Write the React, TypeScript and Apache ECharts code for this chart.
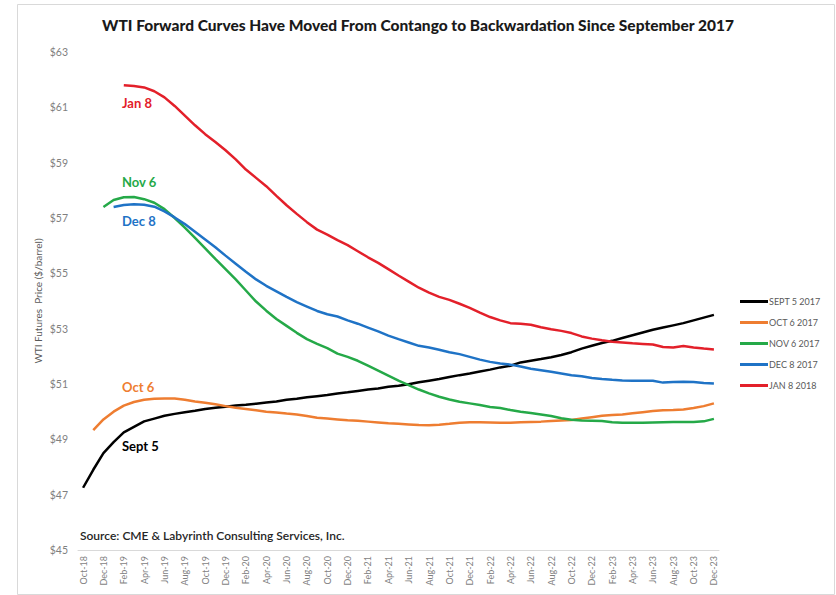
import React, { useEffect, useRef } from "react";
import * as echarts from "echarts";

const months: string[] = [
  "Oct-18","Nov-18","Dec-18","Jan-19","Feb-19","Mar-19","Apr-19","May-19","Jun-19","Jul-19","Aug-19","Sep-19",
  "Oct-19","Nov-19","Dec-19","Jan-20","Feb-20","Mar-20","Apr-20","May-20","Jun-20","Jul-20","Aug-20","Sep-20",
  "Oct-20","Nov-20","Dec-20","Jan-21","Feb-21","Mar-21","Apr-21","May-21","Jun-21","Jul-21","Aug-21","Sep-21",
  "Oct-21","Nov-21","Dec-21","Jan-22","Feb-22","Mar-22","Apr-22","May-22","Jun-22","Jul-22","Aug-22","Sep-22",
  "Oct-22","Nov-22","Dec-22","Jan-23","Feb-23","Mar-23","Apr-23","May-23","Jun-23","Jul-23","Aug-23","Sep-23",
  "Oct-23","Nov-23","Dec-23"
];

const sept5: (number | null)[] = [
  47.25,47.9,48.5,48.9,49.25,49.45,49.65,49.75,49.85,49.92,49.98,50.03,
  50.1,50.14,50.18,50.22,50.25,50.29,50.33,50.37,50.43,50.47,50.52,50.56,
  50.6,50.66,50.7,50.75,50.8,50.84,50.9,50.94,50.99,51.06,51.12,51.18,
  51.25,51.32,51.38,51.45,51.52,51.6,51.66,51.78,51.84,51.9,51.97,52.05,
  52.15,52.28,52.38,52.48,52.56,52.66,52.76,52.86,52.96,53.04,53.12,53.2,
  53.3,53.4,53.5
];

const oct6: (number | null)[] = [
  null,49.33,49.72,50.0,50.22,50.35,50.43,50.47,50.48,50.48,50.43,50.37,
  50.32,50.27,50.2,50.14,50.1,50.05,50.0,49.97,49.93,49.9,49.84,49.78,
  49.75,49.72,49.69,49.67,49.64,49.61,49.58,49.56,49.54,49.52,49.51,49.53,
  49.56,49.6,49.62,49.62,49.61,49.6,49.6,49.62,49.63,49.64,49.66,49.68,
  49.7,49.75,49.8,49.85,49.88,49.9,49.94,49.98,50.02,50.05,50.06,50.08,
  50.13,50.2,50.3
];

const nov6: (number | null)[] = [
  null,null,57.4,57.65,57.75,57.76,57.68,57.55,57.32,57.0,56.65,56.28,
  55.9,55.52,55.15,54.78,54.38,53.98,53.65,53.35,53.1,52.85,52.62,52.45,
  52.3,52.1,51.98,51.84,51.66,51.48,51.3,51.12,50.96,50.8,50.66,50.54,
  50.44,50.36,50.3,50.24,50.17,50.13,50.06,50.0,49.95,49.9,49.84,49.76,
  49.71,49.68,49.67,49.66,49.62,49.6,49.6,49.6,49.61,49.62,49.63,49.63,
  49.63,49.65,49.74
];

const dec8: (number | null)[] = [
  null,null,null,57.4,57.47,57.5,57.48,57.41,57.24,57.02,56.78,56.5,
  56.22,55.94,55.64,55.35,55.06,54.78,54.55,54.35,54.15,53.96,53.8,53.64,
  53.52,53.44,53.3,53.18,53.04,52.9,52.75,52.62,52.5,52.38,52.32,52.24,
  52.15,52.08,51.98,51.88,51.8,51.74,51.7,51.63,51.55,51.5,51.44,51.38,
  51.32,51.28,51.22,51.18,51.15,51.13,51.12,51.12,51.12,51.05,51.07,51.08,
  51.07,51.04,51.02
];

const jan8: (number | null)[] = [
  null,null,null,null,61.8,61.77,61.72,61.58,61.36,61.05,60.7,60.35,
  60.03,59.75,59.45,59.12,58.75,58.45,58.15,57.8,57.46,57.15,56.85,56.58,
  56.4,56.2,56.02,55.8,55.58,55.38,55.15,54.92,54.7,54.48,54.3,54.15,
  54.04,53.9,53.75,53.58,53.42,53.3,53.2,53.18,53.14,53.05,52.98,52.92,
  52.84,52.72,52.64,52.58,52.53,52.5,52.47,52.45,52.43,52.34,52.32,52.37,
  52.32,52.28,52.25
];

const seriesNames: string[] = ["SEPT 5 2017", "OCT 6 2017", "NOV 6 2017", "DEC 8 2017", "JAN 8 2018"];
const seriesColors: string[] = ["#000000", "#EE7D31", "#25A948", "#1F73C6", "#E3202A"];
const seriesData = [sept5, oct6, nov6, dec8, jan8];

const annotations: string[] = ["Sept 5", "Oct 6", "Nov 6", "Dec 8", "Jan 8"];

const titleText = "WTI Forward Curves Have Moved From Contango to Backwardation Since September 2017";
const sourceText = "Source: CME & Labyrinth Consulting Services, Inc.";
const yAxisName = "WTI Futures  Price ($/barrel)";

const FONT = "Lato, 'Noto Sans', sans-serif";

export default function App() {
  const ref = useRef<HTMLDivElement>(null);

  useEffect(() => {
    if (!ref.current) return;
    const chart = echarts.init(ref.current, undefined, { renderer: "svg" });

    const annPos = [
      { x: 122, y: 446 },
      { x: 122, y: 387 },
      { x: 122, y: 182 },
      { x: 122, y: 221 },
      { x: 122, y: 103 },
    ];

    chart.setOption({
      animation: false,
      backgroundColor: "#ffffff",
      textStyle: { fontFamily: FONT },
      title: {
        text: titleText,
        left: "center",
        top: 12,
        textStyle: { fontFamily: FONT, fontSize: 15.5, fontWeight: 900, color: "#1a1a1a" },
      },
      grid: { left: 78, width: 641, top: 52, height: 498, containLabel: false },
      legend: {
        orient: "vertical",
        left: 735,
        top: 292,
        itemWidth: 28,
        itemHeight: 3,
        itemGap: 12,
        data: seriesNames.map((n, i) => ({ name: n, icon: "rect", itemStyle: { color: seriesColors[i] } })),
        textStyle: { fontFamily: FONT, fontSize: 9, color: "#595959", padding: [0, 0, 0, -4] },
      },
      xAxis: {
        type: "category",
        data: months,
        boundaryGap: true,
        axisLine: { show: true, lineStyle: { color: "#d9d9d9", width: 1 } },
        axisTick: { show: false },
        axisLabel: {
          interval: 1,
          rotate: 90,
          color: "#7f7f7f",
          fontSize: 9,
          fontFamily: FONT,
          margin: 6,
        },
        splitLine: { show: false },
      },
      yAxis: {
        type: "value",
        min: 45,
        max: 63,
        interval: 2,
        name: yAxisName,
        nameLocation: "middle",
        nameGap: 35,
        nameRotate: 90,
        nameMoveOverlap: false,
        nameTextStyle: { color: "#595959", fontSize: 10, fontFamily: FONT },
        axisLine: { show: false },
        axisTick: { show: false },
        splitLine: { show: false },
        axisLabel: {
          color: "#7f7f7f",
          fontSize: 10.5,
          fontFamily: FONT,
          margin: 10,
          formatter: (v: number) => "$" + v,
        },
      },
      series: seriesNames.map((name, i) => ({
        name,
        type: "line",
        data: seriesData[i],
        symbol: "none",
        smooth: false,
        connectNulls: false,
        lineStyle: { color: seriesColors[i], width: 2.5 },
        itemStyle: { color: seriesColors[i] },
      })),
      graphic: [
        {
          type: "rect",
          left: 15,
          top: 2,
          shape: { width: 817, height: 590 },
          style: { fill: "none", stroke: "#d9d9d9", lineWidth: 1 },
          silent: true,
          z: -1,
        },
        {
          type: "text",
          left: 80,
          top: 529,
          style: { text: sourceText, fill: "#262626", font: `600 12px ${FONT}` },
        },
        ...annotations.map((t, i) => ({
          type: "text",
          x: annPos[i].x,
          y: annPos[i].y,
          style: {
            text: t,
            fill: seriesColors[i],
            font: `bold 13px ${FONT}`,
            verticalAlign: "middle",
            align: "left",
          },
        })),
      ],
    });

    return () => chart.dispose();
  }, []);

  return (
    <div
      ref={ref}
      style={{ position: "fixed", left: 0, top: 0, width: 836, height: 595 }}
    />
  );
}
